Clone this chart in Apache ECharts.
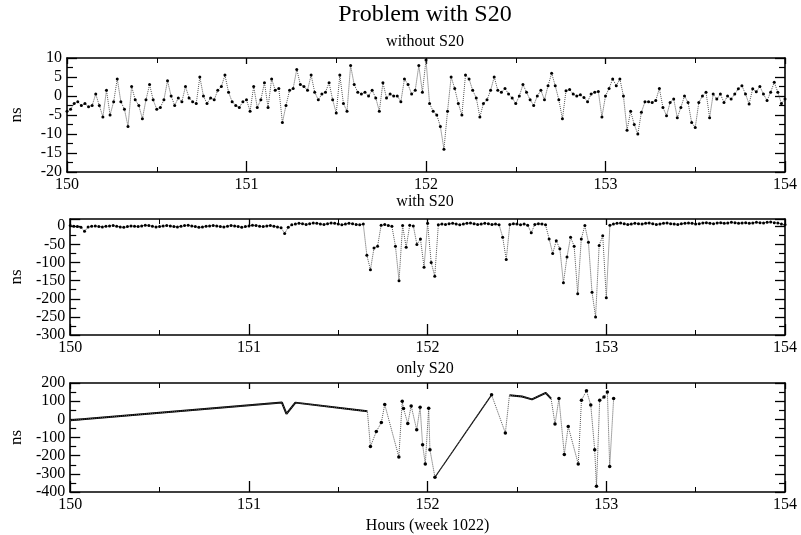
<!DOCTYPE html>
<html>
<head>
<meta charset="utf-8">
<script src="https://cdn.jsdelivr.net/npm/echarts@6/dist/echarts.min.js"></script>
<style>
html, body { margin: 0; background: #fff; }
#chart { width: 801px; height: 535px; }
</style>
</head>
<body>
<div id="chart"></div>
<script>
// samples every 0.02 h starting at hour 150
var sampleStart = 150;
var sampleStep = 0.02;

// residuals without S20 (ns)
var withoutS20 = [
  -4, -3.5, -2, -1.5, -2.5, -2, -2.8, -2.5, 0.5, -2.5,
  -5.5, 1.5, -5, -1.5, 4.5, -1.5, -3.5, -8, 2.5, -1,
  -2.5, -6, -1, 3, -1, -3.5, -3, -1, 4, 0,
  -2.5, -0.5, -1.5, 2.5, -0.5, -1.5, -2, 5, 0, -2,
  -0.5, -1, 1.5, 2.5, 5.5, 1, -1.5, -2.5, -3, -1.5,
  -1, -4, 2.5, -3, -1, 3.5, -3, 4.5, 1.5, 2,
  -7, -2.5, 1.5, 2, 7, 3, 2.5, 1.5, 5.5, 1,
  -1, 0.5, 1, 3.5, -1, -4.5, 5.5, -2, -4, 8,
  3, 1, 0.5, 1, 0, 1.5, -0.5, -4, 3.5, -0.5,
  0.5, 0, 0, -1.5, 4.5, 3, 0.5, 1.5, 8, 1,
  9.5, -2, -4, -5, -8, -14, -4, 5, 2, -2,
  -5, 5.5, 4.5, 1.5, -0.5, -5.5, -2, -1, 1.5, 5,
  1.5, 1, 2, 0.5, -0.5, -2, 0, 3, 1, -1,
  -2.5, 0, 1.5, -1, 2.7, 6, 2.7, -1, -6, 1.4,
  1.7, 0.5, 0, 0.3, -0.4, -1.5, 0.5, 1, 1.2, -5.5,
  0, 2, 4.5, 2.7, 4.5, 0, -9, -4, -7.5, -10,
  -4.3, -1.5, -1.5, -1.7, -1.2, 2, -3, -5.2, -1.7, -0.8,
  -5.7, -3, 0, -1.7, -7, -8.3, -1.7, 0, 1, -5.7,
  0.5, -0.8, 0.5, -1.7, 0, -0.8, 0.5, 1.9, 2.7, 0.5,
  -2.1, 1.9, 1.1, 2.5, 0.5, -1.2, 1, 3.6, 1, -2,
  -0.8
];

// residuals with S20 (ns)
var withS20 = [
  2, 0, -1, -3, -14, -2, 0, 1, -1, -2,
  0, 1, 2, 0, -2, -3, -1, 1, 0, -1,
  1, 3, 2, 0, -2, -1, 1, 2, 1, -1,
  -2, 0, 2, 3, 1, -1, -3, -2, 0, 1,
  2, 1, -1, -2, 0, 2, 1, -1, -3, -1,
  1, 3, 2, 0, -1, 1, 2, 0, -2, -4,
  -20, -3, 4, 6, 8, 7, 5, 7, 9, 8,
  6, 5, 7, 9, 8, 6, 4, 6, 8, 7,
  5, 4, 6, -80, -120, -60, -55, 3, 5, 2,
  0, -55, -150, 2, -58, 3, 1, -50, -35, -113,
  8, -100, -138, 4, 6, 5, 7, 8, 6, 4,
  6, 8, 9, 7, 5, 6, 8, 7, 5, 6,
  4, -30, -92, 5, 7, 6, 4, 6, 3, -18,
  5, 7, 6, 4, -35, -75, -40, -62, -156, -85,
  -30, -55, -186, -35, 2, -44, -182, -250, -53, -26,
  -197, 3, 6, 8, 9, 7, 5, 6, 8, 7,
  6, 8, 9, 7, 5, 6, 8, 9, 7, 6,
  5, 7, 8, 9, 8, 6, 7, 9, 10, 8,
  7, 9, 10, 8, 9, 11, 10, 8, 9, 10,
  8, 9, 11, 10, 9, 11, 12, 10, 9, 6,
  4
];

// S20 alone: irregular epochs (hours) and values (ns)
var onlyHours = [
  150.0, 151.185, 151.21, 151.26, 151.663, 151.68, 151.713, 151.741, 151.76, 151.839,
  151.858, 151.865, 151.889, 151.908, 151.939, 151.958, 151.972, 151.987, 152.006, 152.013,
  152.041, 152.358, 152.435, 152.458, 152.528, 152.584, 152.661, 152.691, 152.713, 152.735,
  152.765, 152.787, 152.843, 152.861, 152.889, 152.913, 152.935, 152.945, 152.963, 152.987,
  153.006, 153.019, 153.041
];
var onlyValues = [
  -5, 92, 30, 92, 44, -150, -67, -18, 82, -207,
  100, 60, -23, 74, -58, 67, -140, -246, 61, -167,
  -319, 135, -75, 132, 126, 110, 146, 114, -26, 114,
  -193, -40, -246, 105, 158, 79, -167, -368, 105, 123,
  150, -260, 114
];

var panelTitles = ['without S20', 'with S20', 'only S20'];
var yRanges = [[-20, 10, 5], [-300, 20, 50], [-400, 200, 100]];
var xLabel = 'Hours (week 1022)';

// stretches of the S20-only curve drawn as solid line
var solidStretches = [[150.0, 151.663, 2], [152.041, 152.358, 1.2], [152.458, 152.691, 2]];

var FONT = '"Liberation Serif", "DejaVu Serif", serif';

function toPairs(vals) {
  return vals.map(function (v, i) {
    return [+(sampleStart + i * sampleStep).toFixed(2), v];
  });
}

var chart = echarts.init(document.getElementById('chart'));

var grids = [
  { left: 65, top: 58, width: 720, height: 114 },
  { left: 65, top: 219, width: 720, height: 116 },
  { left: 65, top: 383, width: 720, height: 114 }
];

var xAxes = [], yAxes = [];
grids.forEach(function (g, i) {
  [false, true].forEach(function (isTop) {
    xAxes.push({
      type: 'value', gridIndex: i, min: 150, max: 154, interval: 1,
      position: isTop ? 'top' : 'bottom',
      name: (!isTop && i === 2) ? xLabel : '',
      nameLocation: 'middle', nameGap: 26,
      nameTextStyle: { color: '#000', fontFamily: FONT, fontSize: 16 },
      axisLine: { show: true, onZero: false, lineStyle: { color: '#000', width: 1.6 } },
      axisTick: { show: true, inside: true, length: isTop ? 6 : 11, lineStyle: { color: '#000', width: 1.3 } },
      minorTick: { show: true, splitNumber: 2, length: 5, lineStyle: { color: '#000', width: 1 } },
      axisLabel: { show: !isTop, color: '#000', fontFamily: FONT, fontSize: 16, margin: 5 },
      splitLine: { show: false }
    });
  });
  [false, true].forEach(function (isRight) {
    var r = yRanges[i];
    yAxes.push({
      type: 'value', gridIndex: i, min: r[0], max: r[1], interval: r[2],
      position: isRight ? 'right' : 'left',
      name: isRight ? '' : 'ns',
      nameLocation: 'middle', nameGap: 42, nameRotate: 90,
      nameTextStyle: { color: '#000', fontFamily: FONT, fontSize: 17 },
      axisLine: { show: true, onZero: false, lineStyle: { color: '#000', width: 1.6 } },
      axisTick: { show: true, inside: true, length: 10, lineStyle: { color: '#000', width: 1.3 } },
      minorTick: { show: true, splitNumber: 2, length: 6, lineStyle: { color: '#000', width: 1.2 } },
      axisLabel: { show: !isRight, color: '#000', fontFamily: FONT, fontSize: 16, margin: 5, showMaxLabel: i !== 1 },
      splitLine: { show: false }
    });
  });
});

function dottedSeries(idx, data, sizeFn) {
  return {
    type: 'line', xAxisIndex: idx * 2, yAxisIndex: idx * 2, data: data,
    symbol: 'circle', symbolSize: sizeFn || 3, showSymbol: true,
    itemStyle: { color: '#000' },
    lineStyle: { color: '#555', width: 1, type: 'dotted' },
    emphasis: { disabled: true }, z: 3
  };
}

var onlyPairs = onlyHours.map(function (t, i) { return [t, onlyValues[i]]; });

function stretchOf(t) {
  for (var k = 0; k < solidStretches.length; k++) {
    if (t >= solidStretches[k][0] && t <= solidStretches[k][1]) return k;
  }
  return -1;
}

var series = [
  dottedSeries(0, toPairs(withoutS20)),
  dottedSeries(1, toPairs(withS20)),
  dottedSeries(2, onlyPairs, function (v) {
    var k = stretchOf(v[0]);
    return (k === 0 || k === 2) ? 0 : 3.5;
  })
];

solidStretches.forEach(function (s) {
  series.push({
    type: 'line', xAxisIndex: 4, yAxisIndex: 4,
    data: onlyPairs.filter(function (p) { return p[0] >= s[0] && p[0] <= s[1]; }),
    showSymbol: false, symbol: 'none',
    lineStyle: { color: '#000', width: s[2] },
    emphasis: { disabled: true }, z: 2
  });
});

var plotCenter = 65 + 360;
var titleY = [42, 202, 369];
var graphics = [{
  type: 'text', x: plotCenter, y: 15,
  style: { text: 'Problem with S20', font: '24px ' + FONT, fill: '#000', align: 'center', verticalAlign: 'middle' }
}];
panelTitles.forEach(function (t, i) {
  graphics.push({
    type: 'text', x: plotCenter, y: titleY[i],
    style: { text: t, font: '16px ' + FONT, fill: '#000', align: 'center', verticalAlign: 'middle' }
  });
});

chart.setOption({
  animation: false,
  backgroundColor: '#fff',
  grid: grids,
  xAxis: xAxes,
  yAxis: yAxes,
  series: series,
  graphic: graphics
});
</script>
</body>
</html>
